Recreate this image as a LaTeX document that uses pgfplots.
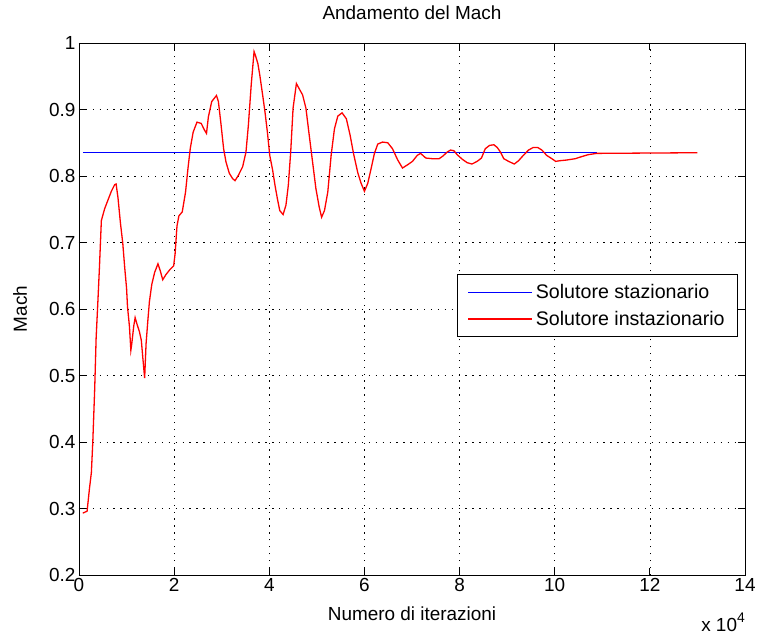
\documentclass[border=0pt]{standalone}
\usepackage{fontspec}
\setmainfont{Liberation Sans}
\setsansfont{Liberation Sans}
\usepackage{pgfplots}
\pgfplotsset{compat=1.18}

\pgfplotstableread{
x y
0.08 0.293
0.17 0.296
0.22 0.330
0.26 0.354
0.29 0.400
0.33 0.480
0.36 0.556
0.40 0.616
0.43 0.663
0.47 0.733
0.54 0.751
0.61 0.764
0.68 0.777
0.75 0.787
0.78 0.788
0.82 0.767
0.87 0.730
0.92 0.699
0.96 0.663
1.00 0.631
1.02 0.603
1.06 0.574
1.09 0.538
1.11 0.548
1.15 0.574
1.18 0.587
1.22 0.577
1.27 0.566
1.31 0.553
1.34 0.528
1.38 0.496
1.41 0.548
1.45 0.585
1.48 0.611
1.53 0.637
1.59 0.655
1.66 0.668
1.71 0.657
1.76 0.644
1.83 0.652
1.92 0.660
1.99 0.665
2.02 0.683
2.06 0.725
2.10 0.740
2.17 0.746
2.24 0.776
2.29 0.811
2.34 0.842
2.40 0.866
2.48 0.881
2.57 0.879
2.63 0.870
2.68 0.864
2.72 0.889
2.79 0.912
2.89 0.921
2.93 0.912
2.98 0.881
3.04 0.841
3.09 0.821
3.16 0.804
3.23 0.796
3.28 0.793
3.35 0.801
3.44 0.814
3.51 0.836
3.56 0.876
3.62 0.937
3.68 0.987
3.71 0.981
3.76 0.969
3.80 0.952
3.86 0.922
3.91 0.896
3.96 0.866
4.01 0.831
4.07 0.809
4.12 0.786
4.17 0.766
4.22 0.748
4.29 0.742
4.35 0.756
4.40 0.786
4.45 0.836
4.50 0.902
4.57 0.939
4.63 0.931
4.70 0.922
4.77 0.902
4.84 0.861
4.91 0.821
4.98 0.781
5.05 0.753
5.10 0.738
5.16 0.748
5.23 0.776
5.30 0.831
5.37 0.871
5.44 0.890
5.53 0.895
5.62 0.886
5.70 0.861
5.77 0.834
5.86 0.805
5.93 0.789
6.00 0.777
6.07 0.789
6.14 0.811
6.21 0.834
6.28 0.848
6.38 0.851
6.49 0.850
6.59 0.841
6.70 0.824
6.80 0.812
6.91 0.817
7.01 0.822
7.11 0.831
7.18 0.834
7.29 0.827
7.43 0.826
7.57 0.826
7.65 0.830
7.74 0.836
7.81 0.839
7.88 0.838
7.95 0.832
8.06 0.825
8.16 0.820
8.26 0.818
8.37 0.822
8.46 0.827
8.54 0.841
8.63 0.846
8.72 0.847
8.79 0.843
8.86 0.836
8.93 0.826
9.03 0.822
9.15 0.818
9.24 0.823
9.34 0.831
9.45 0.839
9.55 0.843
9.64 0.843
9.73 0.839
9.83 0.831
9.94 0.826
10.02 0.822
10.11 0.823
10.25 0.824
10.43 0.826
10.56 0.829
10.70 0.832
10.88 0.834
13.00 0.835
}\instaz

\pgfplotstableread{
x y
0.08 0.835
10.88 0.835
}\staz

\definecolor{matblue}{RGB}{0,0,255}
\definecolor{matred}{RGB}{255,0,0}
\newcommand{\lblfont}{\fontsize{19}{22}\selectfont}
\newcommand{\legfont}{\fontsize{19.7}{22}\selectfont}

\begin{document}
\begin{tikzpicture}[x=1bp,y=1bp]
\useasboundingbox (-79,-64) rectangle (680,575);
\begin{axis}[
  at={(0,0)}, anchor=south west,
  scale only axis, width=666bp, height=532bp,
  xmin=0, xmax=14, ymin=0.2, ymax=1,
  xtick={0,2,4,6,8,10,12,14},
  ytick={0.2,0.3,0.4,0.5,0.6,0.7,0.8,0.9,1},
  /pgf/number format/assume math mode=true,
  tick label style={font=\lblfont},
  grid=major,
  major grid style={black, line width=0.7bp, dash pattern=on 1.3bp off 5.6bp},
  tick align=inside, major tick length=7bp,
  tick style={black, line width=0.8bp},
  axis line style={black, line width=0.9bp},
  title={Andamento del Mach},
  title style={font=\lblfont, at={(axis description cs:0.5,1.032)}, anchor=base},
  xlabel={Numero di iterazioni},
  xlabel style={font=\lblfont, at={(axis description cs:0.5,-0.0846)}, anchor=base},
  legend style={at={(axis description cs:0.9895,0.5658)}, anchor=north east,
    draw=black, line width=0.8bp, fill=white, font=\legfont,
    inner xsep=10bp, inner ysep=7bp, row sep=5bp,
    nodes={inner xsep=3bp, inner ysep=3bp}},
  legend cell align=left,
  legend image code/.code={\draw[#1, line width=1.3bp] (0bp,0bp) -- (64bp,0bp);},
]
\addplot[color=matblue, line width=1.3bp] table[x=x,y=y] {\staz};
\addlegendentry{Solutore stazionario}
\addplot[color=matred, line width=1.3bp] table[x=x,y=y] {\instaz};
\addlegendentry{Solutore instazionario}
\end{axis}
% y-axis label, set vertically left of the tick labels
\node[rotate=90, anchor=base, font=\lblfont, inner sep=0pt] at (-52,266) {Mach};
% common scale factor of the x axis
\node[anchor=base east, font=\lblfont, inner sep=0pt] at (666,-57) {x 10\raisebox{9bp}{\fontsize{14}{16}\selectfont 4}};
\end{tikzpicture}
\end{document}
